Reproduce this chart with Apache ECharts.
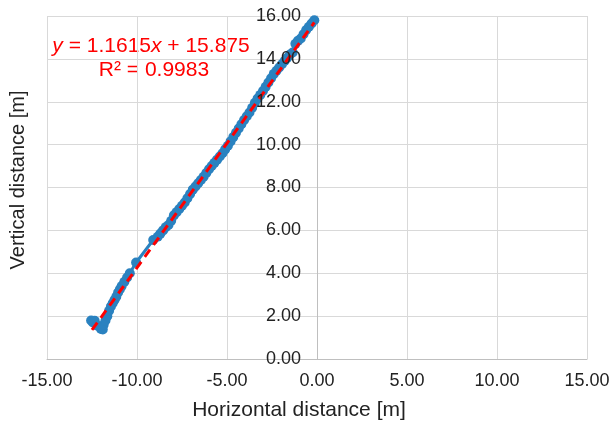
<!DOCTYPE html>
<html>
<head>
<meta charset="utf-8">
<script src="https://cdn.jsdelivr.net/npm/echarts@6/dist/echarts.min.js"></script>
<style>html,body{margin:0;padding:0;background:#fff}#c{width:611px;height:427px}</style>
</head>
<body>
<div id="c"></div>
<script>
// Measured points (horizontal distance [m], vertical distance [m])
var xValues = [-12.55,-12.45,-12.35,-12.20,-12.00,-11.90,-11.85,-11.75,-11.65,-11.55,-11.45,-11.35,-11.25,-11.15,-11.05,-10.95,-10.85,-10.70,-10.55,-10.40,-10.05,
  -9.10,-8.85,-8.70,-8.55,-8.40,-8.25,-8.10,-7.95,-7.80,-7.65,-7.50,-7.35,-7.20,-7.05,-6.90,-6.75,-6.60,-6.45,-6.30,-6.15,
  -6.00,-5.85,-5.70,-5.55,-5.40,-5.25,-5.10,-4.95,-4.80,-4.65,-4.50,-4.35,-4.20,-4.05,-3.90,-3.75,-3.60,-3.45,-3.30,-3.15,
  -3.00,-2.85,-2.70,-2.55,-2.40,-2.25,-2.10,-1.95,-1.80,-1.65,-1.50,-1.35,-1.20,-1.05,-0.90,-0.75,-0.60,-0.45,-0.30,-0.15];
var yValues = [1.80,1.70,1.78,1.55,1.40,1.38,1.60,1.80,2.00,2.25,2.45,2.60,2.75,2.90,3.10,3.25,3.40,3.60,3.80,4.00,4.50,
  5.55,5.70,5.85,6.00,6.15,6.25,6.45,6.70,6.85,7.00,7.15,7.30,7.50,7.70,7.90,8.05,8.20,8.35,8.50,8.68,
  8.85,9.00,9.15,9.30,9.45,9.60,9.78,9.95,10.15,10.35,10.55,10.75,10.95,11.15,11.32,11.50,11.72,11.95,12.15,12.32,
  12.50,12.70,12.90,13.10,13.30,13.45,13.60,13.75,13.90,14.05,14.20,14.30,14.70,14.85,14.95,15.15,15.35,15.50,15.65,15.80];
// Linear trendline as displayed on the chart
var trendSlope = 1.1615;
var trendIntercept = 15.875;
var trendRange = [-12.5, -0.15];
var xTicks = [-15, -10, -5, 0, 5, 10, 15];
var yTicks = [0, 2, 4, 6, 8, 10, 12, 14, 16];

var pts = xValues.map(function (x, i) { return [x, yValues[i]]; });
var trend = trendRange.map(function (x) { return [x, trendSlope * x + trendIntercept]; });

var chart = echarts.init(document.getElementById('c'));
var font = 'Liberation Sans, Arial, sans-serif';
var yMin = yTicks[0], yMax = yTicks[yTicks.length - 1];
chart.setOption({
  animation: false,
  grid: { left: 47, right: 24, top: 16, bottom: 68, containLabel: false, outerBoundsMode: 'none' },
  xAxis: {
    type: 'value', min: xTicks[0], max: xTicks[xTicks.length - 1], interval: 5,
    axisLine: { show: true, onZero: false, lineStyle: { color: '#bfbfbf', width: 1 } },
    axisTick: { show: false },
    splitLine: { show: true, lineStyle: { color: '#d9d9d9', width: 1 } },
    axisLabel: { fontFamily: font, fontSize: 18, color: '#222', margin: 13,
      formatter: function (v) { return v.toFixed(2); } }
  },
  yAxis: [
    {
      type: 'value', min: yMin, max: yMax, interval: 2, z: 0, position: 'left', offset: -270,
      axisLine: { show: true, onZero: false, lineStyle: { color: '#bfbfbf', width: 1 } },
      axisTick: { show: false }, axisLabel: { show: false },
      splitLine: { show: true, lineStyle: { color: '#d9d9d9', width: 1 } }
    },
    {
      type: 'value', min: yMin, max: yMax, interval: 2, position: 'left', offset: -270, z: 10,
      axisLine: { show: false, onZero: false },
      axisTick: { show: false },
      splitLine: { show: false },
      axisLabel: { fontFamily: font, fontSize: 18, color: '#222', margin: 16,
        formatter: function (v) { return v.toFixed(2); } }
    }
  ],
  series: [
    {
      type: 'line', data: pts, yAxisIndex: 0, symbol: 'circle', symbolSize: 10, showSymbol: true,
      lineStyle: { color: '#2a82c0', width: 3 }, itemStyle: { color: '#2a82c0' }, z: 2
    },
    {
      type: 'line', data: trend, yAxisIndex: 0, symbol: 'none',
      lineStyle: { color: '#ff0000', width: 3, type: [9, 6] }, z: 3
    }
  ],
  graphic: [
    { type: 'text', x: 299, y: 410, style: { text: 'Horizontal distance [m]', fontFamily: font, fontSize: 21, fill: '#222', textAlign: 'center', textVerticalAlign: 'middle' } },
    { type: 'text', x: 18, y: 180, rotation: Math.PI / 2, style: { text: 'Vertical distance [m]', fontFamily: font, fontSize: 20, fill: '#222', textAlign: 'center', textVerticalAlign: 'middle' } },
    { type: 'text', x: 151, y: 46, style: { text: '{i|y} = 1.1615{i|x} + 15.875', fontFamily: font, fontSize: 21, fill: '#ff0000', textAlign: 'center', textVerticalAlign: 'middle',
      rich: { i: { fontStyle: 'italic', fontFamily: font, fontSize: 21, fill: '#ff0000' } } } },
    { type: 'text', x: 154, y: 70, style: { text: 'R² = 0.9983', fontFamily: font, fontSize: 21, fill: '#ff0000', textAlign: 'center', textVerticalAlign: 'middle' } }
  ]
});
</script>
</body>
</html>
